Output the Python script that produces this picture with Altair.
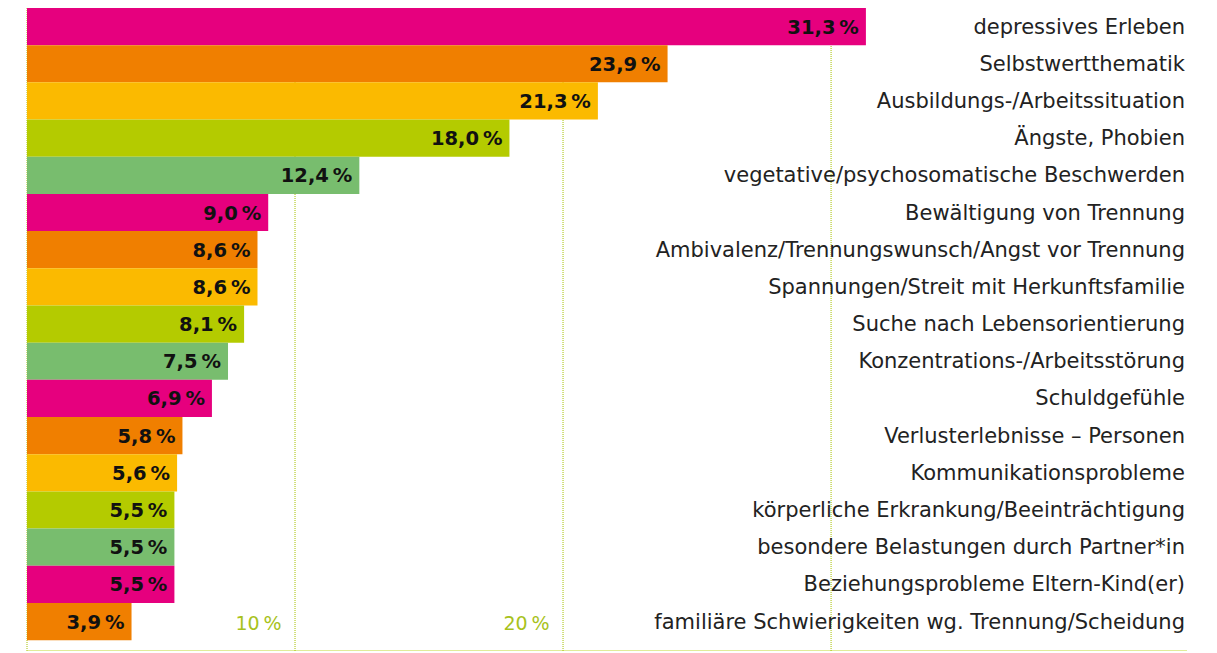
import altair as alt
import pandas as pd

categories = [
    "depressives Erleben",
    "Selbstwertthematik",
    "Ausbildungs-/Arbeitssituation",
    "Ängste, Phobien",
    "vegetative/psychosomatische Beschwerden",
    "Bewältigung von Trennung",
    "Ambivalenz/Trennungswunsch/Angst vor Trennung",
    "Spannungen/Streit mit Herkunftsfamilie",
    "Suche nach Lebensorientierung",
    "Konzentrations-/Arbeitsstörung",
    "Schuldgefühle",
    "Verlusterlebnisse – Personen",
    "Kommunikationsprobleme",
    "körperliche Erkrankung/Beeinträchtigung",
    "besondere Belastungen durch Partner*in",
    "Beziehungsprobleme Eltern-Kind(er)",
    "familiäre Schwierigkeiten wg. Trennung/Scheidung",
]
values = [31.3, 23.9, 21.3, 18.0, 12.4, 9.0, 8.6, 8.6, 8.1, 7.5, 6.9, 5.8, 5.6, 5.5, 5.5, 5.5, 3.9]
palette = ["#E6007E", "#F07F00", "#FBBA00", "#B4CB00", "#78BD6E"]
grid_values = [0, 10, 20, 30]
tick_labels = {10: "10\u2009%", 20: "20\u2009%"}

df = pd.DataFrame({
    "cat": categories,
    "val": values,
    "label": [f"{v:.1f}".replace(".", ",") + "\u2009%" for v in values],
    "color": [palette[i % len(palette)] for i in range(len(values))],
})
grid_df = pd.DataFrame({"g": grid_values})

W, H = 1160, 643
label_expr = " : ".join(
    f"datum.value == {k} ? '{v}'" for k, v in tick_labels.items()
) + " : ''"

axis_x = alt.Axis(
    values=grid_values,
    title=None,
    grid=False,
    ticks=False,
    domain=True,
    labelExpr=label_expr,
)
x_scale = alt.Scale(domain=[0, 43.28], nice=False, zero=True)

grid = alt.Chart(grid_df).mark_rule(
    color="#A5C200", strokeWidth=1, strokeDash=[1, 1]
).encode(x=alt.X("g:Q", scale=x_scale, axis=axis_x))

bars = alt.Chart(df).mark_bar().encode(
    x=alt.X("val:Q", scale=x_scale, axis=axis_x),
    y=alt.Y(
        "cat:N",
        sort=categories,
        scale=alt.Scale(paddingInner=0, paddingOuter=0.146, align=0),
        axis=None,
    ),
    color=alt.Color("color:N", scale=None),
)

vals = alt.Chart(df).mark_text(
    align="right", baseline="middle", dx=-7, dy=1,
    font="DejaVu Sans", fontSize=19.5, fontWeight="bold", color="#111111",
).encode(x=alt.X("val:Q", axis=axis_x), y=alt.Y("cat:N", sort=categories), text="label:N")

cats = alt.Chart(df).mark_text(
    align="right", baseline="middle", dy=1,
    font="DejaVu Sans", fontSize=21, color="#222222",
).encode(x=alt.value(W - 2), y=alt.Y("cat:N", sort=categories), text="cat:N")

chart = alt.layer(grid, bars, vals, cats).properties(
    width=W, height=H,
    autosize=alt.AutoSizeParams(type="none"),
    padding={"left": 19, "top": 0, "right": 0, "bottom": 0},
).configure_view(
    stroke=None
).configure_axis(
    domainColor="#C2D935",
    domainWidth=2,
    labelAlign="right",
    labelBaseline="middle",
    labelPadding=-28,
    labelOffset=-14,
    labelFont="DejaVu Sans",
    labelFontSize=19,
    labelColor="#A8C21C",
    labelFlush=False,
    labelOverlap=False,
)

chart.save("out.html", embed_options={"renderer": "svg", "actions": False})
